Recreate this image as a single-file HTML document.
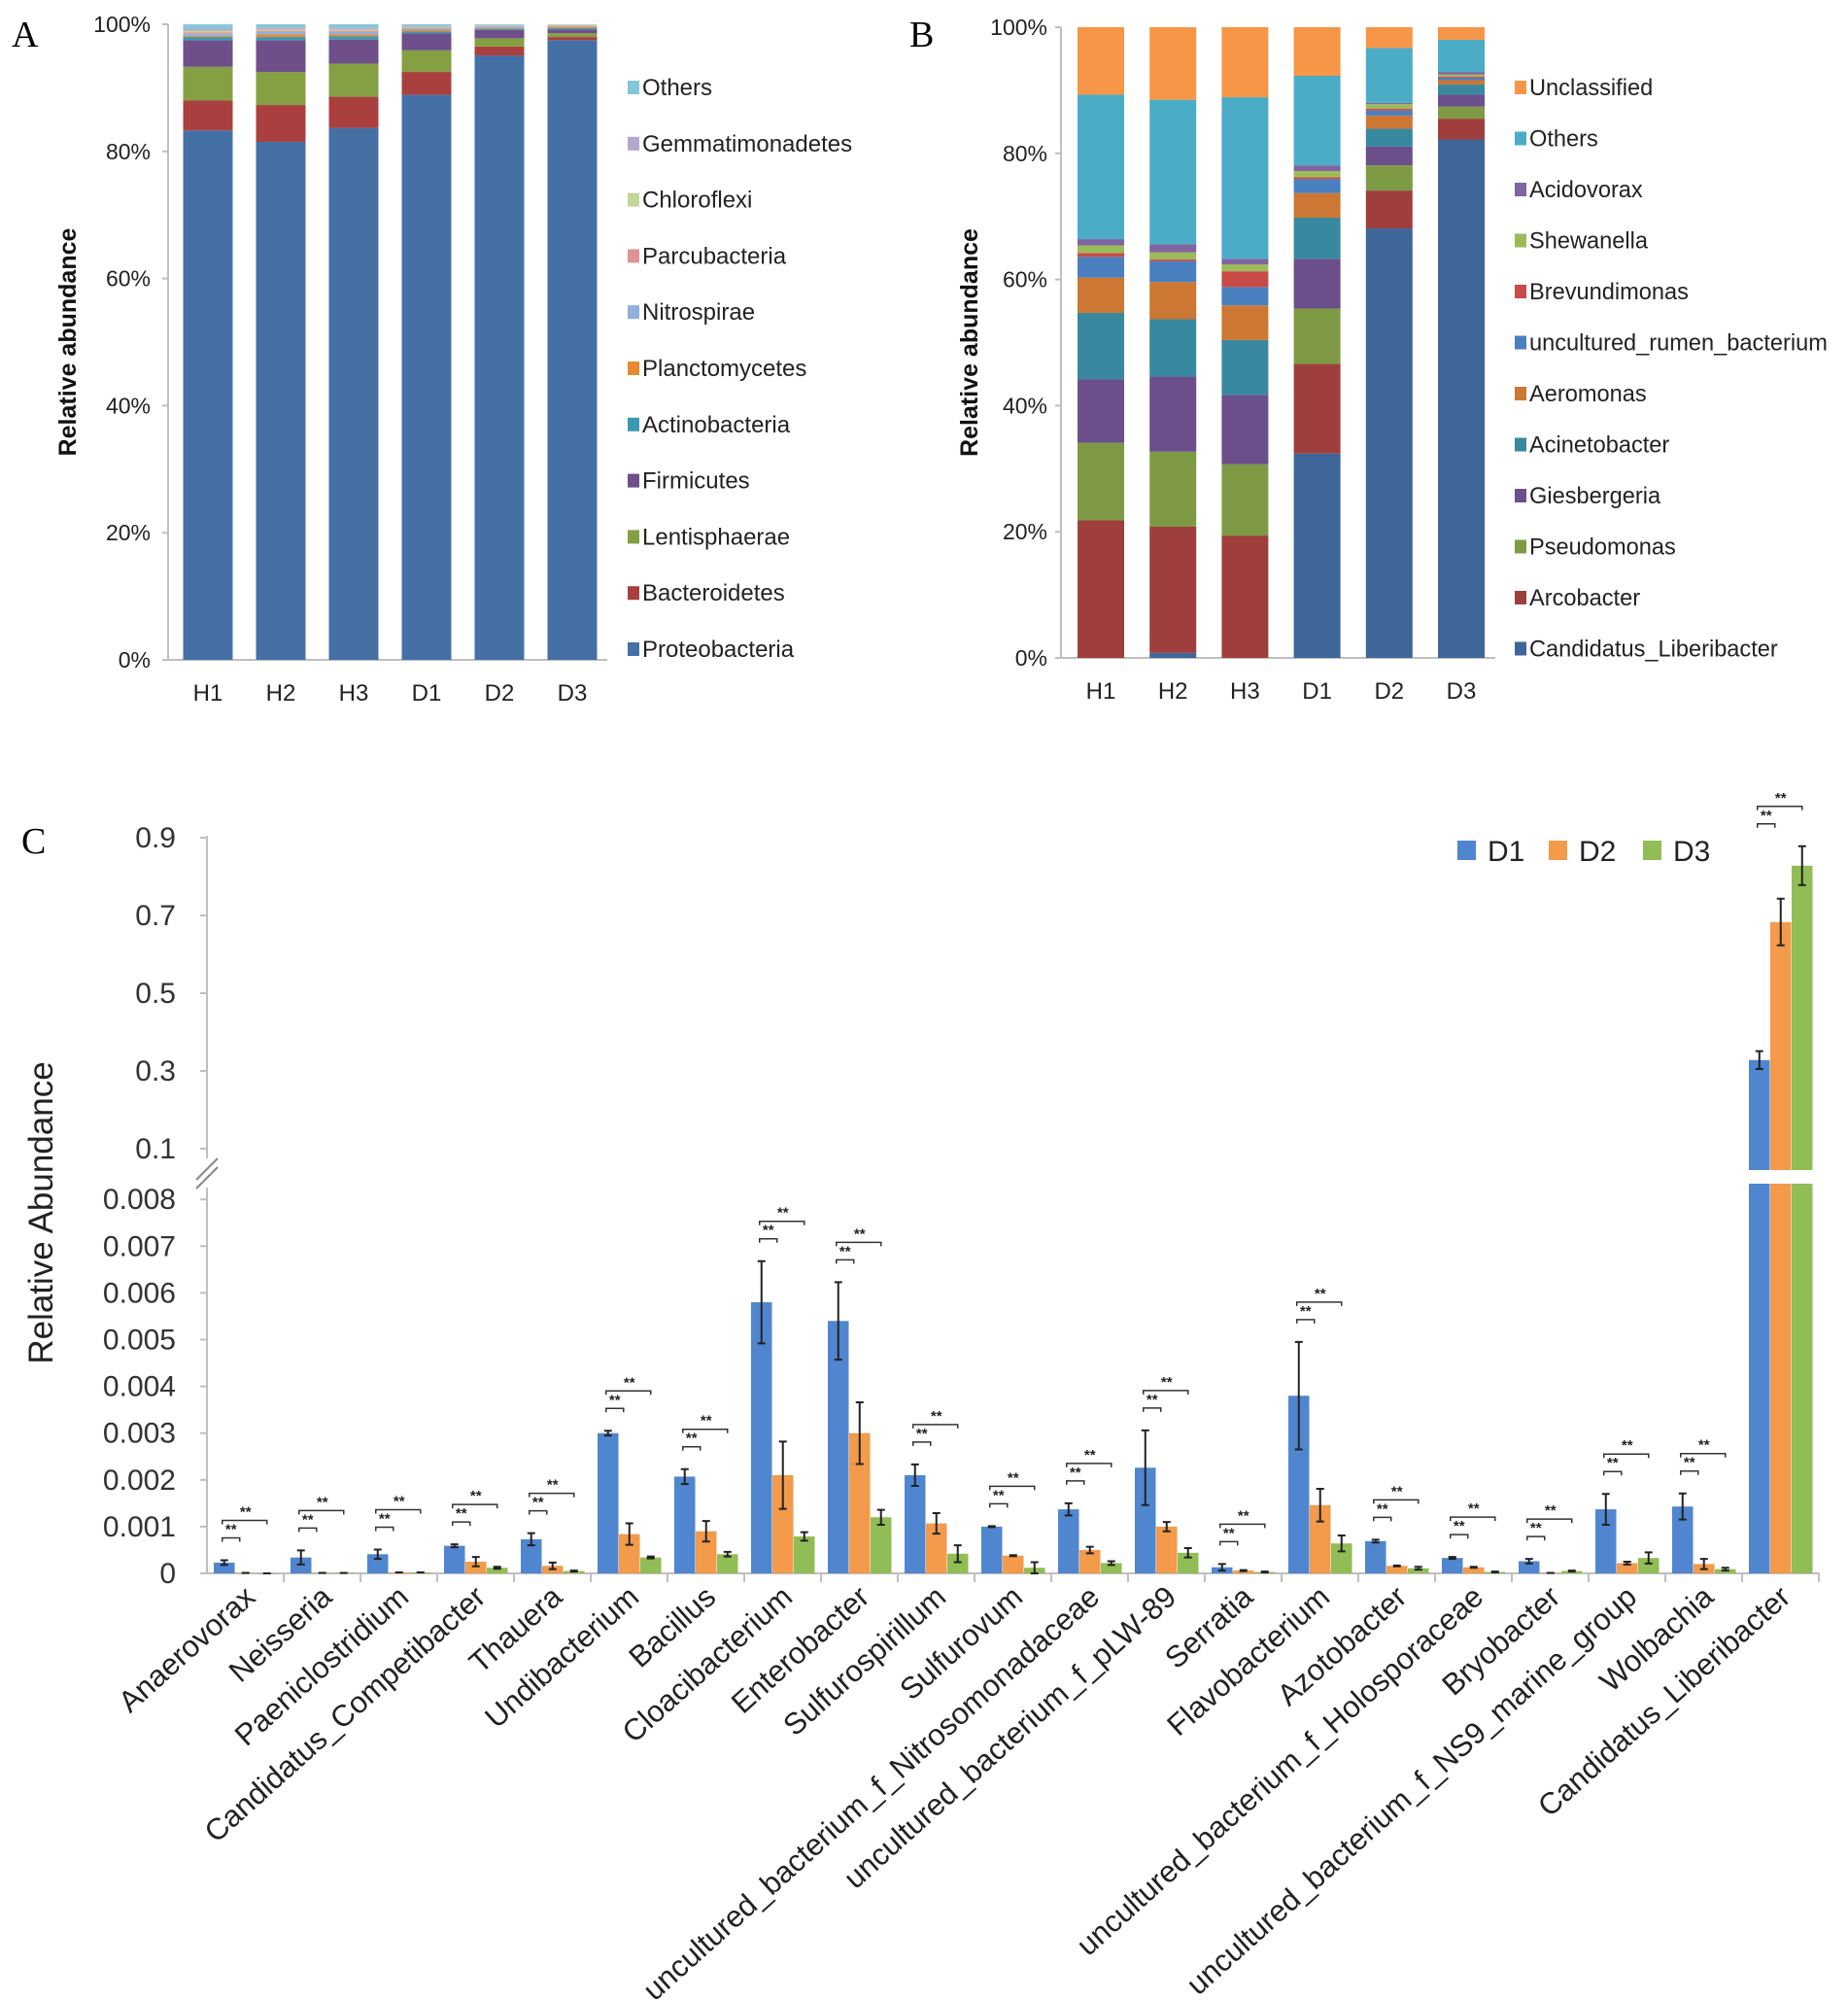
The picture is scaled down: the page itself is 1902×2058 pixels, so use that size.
<!DOCTYPE html>
<html><head><meta charset="utf-8"><style>
html,body{margin:0;padding:0;background:#fff}
svg{display:block;font-family:"Liberation Sans",Arial,sans-serif}
</style></head><body>
<svg id="fig" width="1902" height="2058" viewBox="0 0 1902 2058" xmlns="http://www.w3.org/2000/svg">
<g id="pA"></g>
<g id="pB"></g>
<g id="pC"></g>
</svg>
<script>
// ---------- Panel A data ----------
const aSamples = ["H1","H2","H3","D1","D2","D3"];
const aSeries = ["Proteobacteria","Bacteroidetes","Lentisphaerae","Firmicutes","Actinobacteria","Planctomycetes","Nitrospirae","Parcubacteria","Chloroflexi","Gemmatimonadetes","Others"];
const aProteobacteria = [83.3,81.5,83.7,88.9,95.1,97.5];
const aBacteroidetes = [4.7,5.8,4.9,3.6,1.4,0.5];
const aLentisphaerae = [5.3,5.2,5.2,3.4,1.3,0.6];
const aFirmicutes = [4.2,5.0,3.8,2.7,1.3,0.6];
const aActinobacteria = [0.5,0.5,0.5,0.3,0.2,0.2];
const aPlanctomycetes = [0.2,0.4,0.3,0.3,0.1,0.2];
const aNitrospirae = [0.3,0.4,0.4,0.2,0.2,0.1];
const aParcubacteria = [0.2,0.2,0.2,0.1,0.1,0.1];
const aChloroflexi = [0.3,0.2,0.2,0.1,0.1,0.1];
const aGemmatimonadetes = [0.3,0.3,0.2,0.1,0.1,0.05];
const aOthers = [0.7,0.5,0.6,0.3,0.1,0.05];
const aTicks = ["0%","20%","40%","60%","80%","100%"];

// ---------- Panel B data ----------
const bSamples = ["H1","H2","H3","D1","D2","D3"];
const bSeries = ["Candidatus_Liberibacter","Arcobacter","Pseudomonas","Giesbergeria","Acinetobacter","Aeromonas","uncultured_rumen_bacterium","Brevundimonas","Shewanella","Acidovorax","Others","Unclassified"];
const bCandidatus = [0,0.8,0,32.4,68.1,82.2];
const bArcobacter = [21.8,20.0,19.4,14.2,6.0,3.3];
const bPseudomonas = [12.3,11.9,11.3,8.8,4.0,1.9];
const bGiesbergeria = [10.1,11.9,11.0,7.9,3.0,1.9];
const bAcinetobacter = [10.5,9.1,8.7,6.5,2.8,1.6];
const bAeromonas = [5.6,5.9,5.5,3.9,2.1,0.7];
const bRumen = [3.3,3.3,2.9,2.2,0.8,0.4];
const bBrevundimonas = [0.6,0.3,2.5,0.3,0.3,0.2];
const bShewanella = [1.2,1.1,1.1,1.0,0.7,0.3];
const bAcidovorax = [1.0,1.3,0.9,0.9,0.2,0.4];
const bOthers = [22.9,22.9,25.6,14.2,8.7,5.1];
const bUnclassified = [10.7,11.5,11.1,7.7,3.3,2.0];
const bTicks = ["0%","20%","40%","60%","80%","100%"];

// ---------- Panel C data ----------
const cCategories = ["Anaerovorax","Neisseria","Paeniclostridium","Candidatus_Competibacter","Thauera","Undibacterium","Bacillus","Cloacibacterium","Enterobacter","Sulfurospirillum","Sulfurovum","uncultured_bacterium_f_Nitrosomonadaceae","uncultured_bacterium_f_pLW-89","Serratia","Flavobacterium","Azotobacter","uncultured_bacterium_f_Holosporaceae","Bryobacter","uncultured_bacterium_f_NS9_marine_group","Wolbachia","Candidatus_Liberibacter"];
const cD1 = [0.00023,0.00034,0.00041,0.00059,0.00073,0.003,0.00207,0.0058,0.0054,0.0021,0.001,0.00137,0.00226,0.00013,0.0038,0.00069,0.00033,0.00026,0.00137,0.00143,0.328];
const cD2 = [0.00001,0.00001,0.00002,0.00025,0.00016,0.00084,0.0009,0.0021,0.003,0.00107,0.00038,0.0005,0.001,0.00006,0.00146,0.00016,0.00013,0.00001,0.00022,0.0002,0.683];
const cD3 = [0,0.00001,0.00002,0.00012,0.00005,0.00034,0.00041,0.00079,0.0012,0.00042,0.00012,0.00022,0.00044,0.00003,0.00064,0.00011,0.00003,0.00005,0.00033,0.00009,0.828];
const cE1 = [0.00005,0.00015,0.0001,0.00003,0.00013,0.00005,0.00016,0.00088,0.00083,0.00023,0.00001,0.00013,0.0008,0.00007,0.00115,0.00003,0.00002,0.00005,0.00033,0.00028,0.023];
const cE2 = [0,0,0,0.0001,0.00007,0.00023,0.00022,0.00072,0.00066,0.00022,0.00001,0.00007,0.0001,0.00001,0.00035,0.00001,0.00001,0,0.00003,0.00011,0.06];
const cE3 = [0,0,0,0.00002,0.00001,0.00002,0.00005,0.00009,0.00016,0.00018,0.00012,0.00004,0.0001,0.00001,0.00017,0.00003,0.00001,0.00001,0.00012,0.00003,0.05];
const cLowTicks = [0,0.001,0.002,0.003,0.004,0.005,0.006,0.007,0.008];
const cLowLabels = ["0","0.001","0.002","0.003","0.004","0.005","0.006","0.007","0.008"];
const cHighTicks = [0.1,0.3,0.5,0.7,0.9];
const cHighLabels = ["0.1","0.3","0.5","0.7","0.9"];
const cGroups = ["D1","D2","D3"];

const NS = "http://www.w3.org/2000/svg";
function mk(tag, attrs, parent, text){
  const e = document.createElementNS(NS, tag);
  for (const k in attrs) e.setAttribute(k, attrs[k]);
  if (text !== undefined) e.textContent = text;
  parent.appendChild(e);
  return e;
}

function stacked(g, opt){
  const y = v => opt.y0 - v/100*(opt.y0-opt.y100);
  const axisX = opt.axisX;
  let ax = mk("line",{x1:axisX,y1:opt.y100,x2:axisX,y2:opt.y0,stroke:"#bfbfbf","stroke-width":2},g);
  
  
  let bx = mk("line",{x1:axisX,y1:opt.y0,x2:opt.axisEnd,y2:opt.y0,stroke:"#bfbfbf","stroke-width":2},g);
  
  
  opt.ticks.forEach((t,i)=>{
    const yy = y(i*20);
    const tl = mk("line",{x1:axisX-6,y1:yy,x2:axisX,y2:yy,stroke:"#bfbfbf","stroke-width":2},g);
    
    
    const tx = mk("text",{x:opt.tickRight,y:yy+8,"text-anchor":"end","font-size":23,fill:"#222"},g,t);
    
    
  });
  const yt = mk("text",{x:0,y:0,transform:`translate(${opt.titleX},${(opt.y0+opt.y100)/2}) rotate(-90)`,"text-anchor":"middle","font-size":25,"font-weight":"bold",fill:"#111"},g,"Relative abundance");
  
  
  opt.samples.forEach((s,i)=>{
    const cx = opt.c0 + i*opt.pitch;
    let acc = 0;
    const tot = opt.data.reduce((a,arr)=>a+arr[i],0);
    opt.data.forEach((arr,k)=>{
      const v = arr[i]/tot*100;
      if (v<=0){ return; }
      const r = mk("rect",{x:cx-opt.bw/2,y:y(acc+v),width:opt.bw,height:y(acc)-y(acc+v),fill:opt.colors[k]},g);
      
      
      acc += v;
    });
    const xl = mk("text",{x:cx,y:opt.labelY,"text-anchor":"middle","font-size":24,fill:"#222"},g,s);
    
    
  });
  const n = opt.series.length;
  for (let k=n-1;k>=0;k--){
    const idx = n-1-k;
    const ly = opt.legTop + idx*opt.legStep;
    const sq = mk("rect",{x:opt.legX,y:ly-7,width:12,height:14,fill:opt.colors[k]},g);
    
    
    const lt = mk("text",{x:opt.legX+15,y:ly+8,"font-size":opt.legFont,fill:"#222"},g,opt.series[k]);
    
    
  }
  const pl = mk("text",{x:opt.letterX,y:48,"font-size":38,"font-family":"Liberation Serif, serif",fill:"#000"},g,opt.letter);
  
  
}

stacked(document.getElementById("pA"),{
  samples:aSamples, series:aSeries,
  data:[aProteobacteria,aBacteroidetes,aLentisphaerae,aFirmicutes,aActinobacteria,aPlanctomycetes,aNitrospirae,aParcubacteria,aChloroflexi,aGemmatimonadetes,aOthers],
  colors:["#4570a6","#a9403f","#84a042","#6e4f8a","#3a98b0","#e88a30","#8fb0dc","#dd9592","#c1d69a","#b4a7cc","#86c6dc"],
  y0:679,y100:25,axisX:173,axisEnd:625,c0:214,pitch:75,bw:51,tickRight:155,titleX:78,labelY:721,
  legX:646,legTop:90,legStep:57.8,legFont:24,ticks:aTicks,letter:"A",letterX:12
});
stacked(document.getElementById("pB"),{
  samples:bSamples, series:bSeries,
  data:[bCandidatus,bArcobacter,bPseudomonas,bGiesbergeria,bAcinetobacter,bAeromonas,bRumen,bBrevundimonas,bShewanella,bAcidovorax,bOthers,bUnclassified],
  colors:["#3e6699","#9e3f3d","#7f9a45","#6a4f8a","#3889a0","#cc7733","#4a7fc0","#c84b47","#9bbb59","#8064a2","#4bacc6","#f79646"],
  y0:677,y100:28,axisX:1092,axisEnd:1539,c0:1133,pitch:74.2,bw:48,tickRight:1078,titleX:1006,labelY:719,
  legX:1559,legTop:90,legStep:52.5,legFont:23.6,ticks:bTicks,letter:"B",letterX:936
});

(function(){
  const g = document.getElementById("pC");
  const AX = 213, PITCH = 79.0, ZERO = 1619, PER = 48.1;
  const GAP_TOP = 1204, GAP_BOT = 1218;
  function yC(v){
    if (v <= 0.0085) return ZERO - v/0.001*PER;
    return 1182 - (v-0.1)/0.2*80;
  }
  const colors = ["#4f86cf","#f39a4b","#91bd56"];
  const a1 = mk("line",{x1:AX,y1:860,x2:AX,y2:1192,stroke:"#bfbfbf","stroke-width":2},g);
  
  
  const a2 = mk("line",{x1:AX,y1:1222,x2:AX,y2:ZERO,stroke:"#bfbfbf","stroke-width":2},g);
  
  
  [0,9].forEach(d=>{
    const br = mk("line",{x1:AX-11,y1:1214+d,x2:AX+11,y2:1192+d,stroke:"#888","stroke-width":2},g);
    
    
  });
  const xa = mk("line",{x1:AX,y1:ZERO,x2:AX+PITCH*cCategories.length,y2:ZERO,stroke:"#bfbfbf","stroke-width":2},g);
  
  
  function tick(t,label){
    const yy = yC(t);
    const tl = mk("line",{x1:AX-7,y1:yy,x2:AX,y2:yy,stroke:"#bfbfbf","stroke-width":2},g);
    
    
    const tx = mk("text",{x:181,y:yy+10,"text-anchor":"end","font-size":30,fill:"#333"},g,label);
    
    
  }
  cLowTicks.forEach((t,i)=>tick(t,cLowLabels[i]));
  cHighTicks.forEach((t,i)=>tick(t,cHighLabels[i]));
  const yt = mk("text",{x:0,y:0,transform:"translate(54,1248) rotate(-90)","text-anchor":"middle","font-size":35,fill:"#222"},g,"Relative Abundance");
  
  
  const pl = mk("text",{x:22,y:878,"font-size":38,"font-family":"Liberation Serif, serif",fill:"#000"},g,"C");
  
  

  const vals = [cD1,cD2,cD3], errs = [cE1,cE2,cE3];
  cCategories.forEach((cat,i)=>{
    const t0 = AX + i*PITCH;
    const tk = mk("line",{x1:t0+PITCH,y1:ZERO,x2:t0+PITCH,y2:ZERO+9,stroke:"#bfbfbf","stroke-width":2},g);
    
    
    let top = ZERO;
    const centers = [];
    for (let s=0;s<3;s++){
      const v = vals[s][i], e = errs[s][i];
      const x = t0 + 7 + s*22, w = 21.5, cx = x + w/2;
      centers.push(cx);
      if (v > 0.1){
        const r1 = mk("rect",{x:x,y:GAP_BOT,width:w,height:ZERO-GAP_BOT,fill:colors[s]},g);
        
        
        const r2 = mk("rect",{x:x,y:yC(v),width:w,height:GAP_TOP-yC(v),fill:colors[s]},g);
        
        
      } else {
        const r = mk("rect",{x:x,y:yC(v),width:w,height:Math.max(ZERO-yC(v),0.5),fill:colors[s]},g);
        
        
      }
      const yt1 = yC(v+e), yb1 = yC(Math.max(v-e,0));
      const eb = mk("path",{d:`M${cx},${yt1}V${yb1}M${cx-4},${yt1}H${cx+4}M${cx-4},${yb1}H${cx+4}`,stroke:"#222","stroke-width":2,fill:"none"},g);
      
      
      top = Math.min(top, yt1);
    }
    const ys = top - 23, yl = top - 41;
    const b1 = mk("path",{d:`M${centers[0]-2},${ys+4}V${ys}H${centers[1]-6}V${ys+4}`,stroke:"#333","stroke-width":1.5,fill:"none"},g);
    
    
    const s1 = mk("text",{x:(centers[0]+centers[1]-8)/2,y:ys-4,"text-anchor":"middle","font-size":15,"font-weight":"bold",fill:"#222"},g,"**");
    
    
    const b2 = mk("path",{d:`M${centers[0]-2},${yl+4}V${yl}H${centers[2]}V${yl+4}`,stroke:"#333","stroke-width":1.5,fill:"none"},g);
    
    
    const s2 = mk("text",{x:(centers[0]+centers[2])/2,y:yl-4,"text-anchor":"middle","font-size":15,"font-weight":"bold",fill:"#222"},g,"**");
    
    
    const lx = t0 + PITCH/2 + 12;
    const lb = mk("text",{x:0,y:0,transform:`translate(${lx},1646) rotate(-42)`,"text-anchor":"end","font-size":31,fill:"#222"},g,cat);
    
    
  });
  const legX = [1500,1594,1691];
  cGroups.forEach((n,k)=>{
    const sq = mk("rect",{x:legX[k],y:865,width:19,height:20,fill:colors[k]},g);
    
    
    const t = mk("text",{x:legX[k]+31,y:886,"font-size":30,fill:"#222"},g,n);
    
    
  });
})();
</script>
</body></html>
